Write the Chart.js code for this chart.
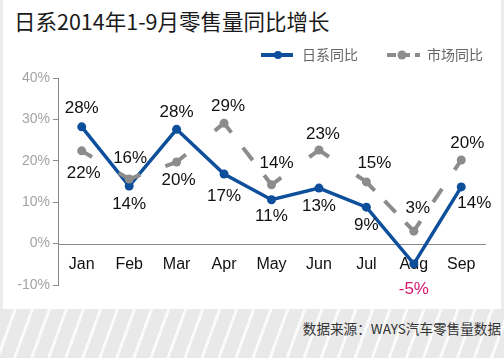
<!DOCTYPE html>
<html>
<head>
<meta charset="utf-8">
<script src="https://cdn.jsdelivr.net/npm/chart.js@4/dist/chart.umd.min.js"></script>
<style>
  html, body { margin: 0; padding: 0; }
  body { width: 504px; height: 358px; position: relative; overflow: hidden; background: #fff; font-family: "Noto Sans CJK SC", "Noto Sans", sans-serif; }
  #panel { position: absolute; left: 0; top: 0; width: 504px; height: 309px; background: #fff; box-sizing: border-box; border-left: 3px solid #ececec; border-right: 3px solid #ececec; }
  #footer { position: absolute; left: 0; top: 309px; width: 504px; height: 49px;
    background: repeating-linear-gradient(110deg, #e9e9e9 0px, #e9e9e9 13px, #fafafa 13px, #fafafa 16px); }
  #title { position: absolute; left: 14px; top: 6px; font-size: 21.5px; color: #1a1a1a; line-height: 30px; }
  #source { position: absolute; right: 3px; top: 318px; font-size: 13.6px; color: #333; line-height: 20px; }
  #wrap { position: absolute; left: 0; top: 0; width: 504px; height: 358px; }
</style>
</head>
<body>
<div id="panel"></div>
<div id="footer"></div>
<div id="title">日系2014年1-9月零售量同比增长</div>
<div id="source">数据来源：WAYS汽车零售量数据</div>
<div id="wrap"><canvas id="myChart"></canvas></div>
<script>
'use strict';

// data

let months = ['Jan', 'Feb', 'Mar', 'Apr', 'May', 'Jun', 'Jul', 'Aug', 'Sep'];
let japanGrowth = [28.2, 13.9, 27.6, 16.8, 10.6, 13.4, 8.8, -4.9, 13.7];
let marketGrowth = [22.4, 15.6, 19.7, 29.1, 14.2, 22.6, 14.9, 3.0, 20.2];
let yTicks = [-10, 0, 10, 20, 30, 40];

let blue = '#0d4f9b';
let gray = '#8c8c8c';

// label placement (dx, dy from point)
let japanLabelPos = [[0, -19], [0, 18], [0, -17], [0, 22], [0, 17], [0, 18], [0, 18], [0, 25], [13, 16]];
let marketLabelPos = [[2, 22], [1, -21], [2, 18], [4, -17], [5, -21], [4, -16], [8, -19], [4, -23], [6, -17]];

// gray dashes: a short stub next to each point, long dashes in between
let halfStub = 12;
let dashLen = 16;
let minGap = 12;

function segDash(c) {
  let L = Math.hypot(c.p1.x - c.p0.x, c.p1.y - c.p0.y);
  let n = Math.max(0, Math.floor((L - 2 * halfStub - minGap) / (dashLen + minGap)));
  let g = (L - 2 * halfStub - n * dashLen) / (n + 1);
  if (g < 2) return [halfStub, 2];
  let pattern = [halfStub, g];
  for (let i = 0; i < n; i++) {
    pattern.push(dashLen, g);
  }
  pattern.push(halfStub + 2, 200);
  return pattern;
}

let labelPlugin = {
  id: 'extras',
  beforeDatasetsDraw(chart) {
    let ctx = chart.ctx;
    let x = chart.scales.x;
    let y = chart.scales.y;
    ctx.save();
    // zero line
    ctx.strokeStyle = '#8a8a8a';
    ctx.lineWidth = 1;
    ctx.beginPath();
    ctx.moveTo(chart.chartArea.left, Math.round(y.getPixelForValue(0)) + 0.5);
    ctx.lineTo(chart.chartArea.right + 1, Math.round(y.getPixelForValue(0)) + 0.5);
    ctx.stroke();
    // month labels
    ctx.fillStyle = '#111';
    ctx.font = '16px "Liberation Sans", Arial, sans-serif';
    ctx.textAlign = 'center';
    ctx.textBaseline = 'middle';
    months.forEach((m, i) => {
      ctx.fillText(m, x.getPixelForValue(i), 265);
    });
    ctx.restore();
  },
  afterDatasetsDraw(chart) {
    let ctx = chart.ctx;
    ctx.save();
    ctx.font = '17px "Liberation Sans", Arial, sans-serif';
    ctx.textAlign = 'center';
    ctx.textBaseline = 'middle';
    let sets = [[0, japanLabelPos], [1, marketLabelPos]];
    sets.forEach(([di, pos]) => {
      let meta = chart.getDatasetMeta(di);
      let data = chart.data.datasets[di].data;
      meta.data.forEach((pt, i) => {
        let v = Math.round(data[i]);
        ctx.fillStyle = v < 0 ? '#d81470' : '#111';
        ctx.fillText(v + '%', pt.x + pos[i][0], pt.y + pos[i][1]);
      });
    });
    // legend
    ctx.lineCap = 'butt';
    ctx.strokeStyle = blue;
    ctx.lineWidth = 4;
    ctx.beginPath();
    ctx.moveTo(261, 55);
    ctx.lineTo(293, 55);
    ctx.stroke();
    ctx.fillStyle = blue;
    ctx.beginPath();
    ctx.arc(278, 55, 4, 0, Math.PI * 2);
    ctx.fill();
    ctx.strokeStyle = gray;
    ctx.setLineDash([9, 5]);
    ctx.beginPath();
    ctx.moveTo(387, 55);
    ctx.lineTo(420, 55);
    ctx.stroke();
    ctx.setLineDash([]);
    ctx.fillStyle = gray;
    ctx.beginPath();
    ctx.arc(402, 55, 4.5, 0, Math.PI * 2);
    ctx.fill();
    ctx.fillStyle = '#666';
    ctx.font = '14px "Noto Sans CJK SC", sans-serif';
    ctx.textAlign = 'left';
    ctx.fillText('日系同比', 302, 55);
    ctx.fillText('市场同比', 427, 55);
    ctx.restore();
  }
};

let ctx = document.getElementById('myChart');
new Chart(ctx, {
  type: 'line',
  data: {
    labels: months,
    datasets: [
      {
        label: '日系同比',
        data: japanGrowth,
        borderColor: blue,
        backgroundColor: blue,
        borderWidth: 3.5,
        pointRadius: 4.5,
        pointBorderWidth: 0,
        pointBackgroundColor: blue,
        tension: 0,
        order: 2
      },
      {
        label: '市场同比',
        data: marketGrowth,
        borderColor: gray,
        backgroundColor: gray,
        borderWidth: 4,
        segment: {
          borderDash: segDash,
          borderDashOffset: 0
        },
        pointRadius: 4.5,
        pointBorderWidth: 0,
        pointBackgroundColor: gray,
        tension: 0,
        order: 1
      }
    ]
  },
  options: {
    responsive: true,
    maintainAspectRatio: false,
    animation: false,
    events: [],
    layout: { padding: { left: 0, top: 78, right: 19, bottom: 73 } },
    plugins: {
      legend: { display: false },
      tooltip: { enabled: false }
    },
    scales: {
      x: {
        type: 'category',
        offset: true,
        display: false
      },
      y: {
        min: -10,
        max: 40,
        afterFit(scale) { scale.width = 58; },
        afterBuildTicks(scale) { scale.ticks = yTicks.map(v => ({ value: v })); },
        border: { display: true, color: '#8a8a8a', width: 1 },
        grid: { display: true, drawOnChartArea: false, drawTicks: true, tickLength: 5, color: '#8a8a8a' },
        ticks: {
          color: '#a3a3a3',
          padding: 3,
          font: { family: '"Liberation Sans", Arial, sans-serif', size: 14 },
          callback: v => v + '%'
        }
      }
    }
  },
  plugins: [labelPlugin]
});
</script>
</body>
</html>
